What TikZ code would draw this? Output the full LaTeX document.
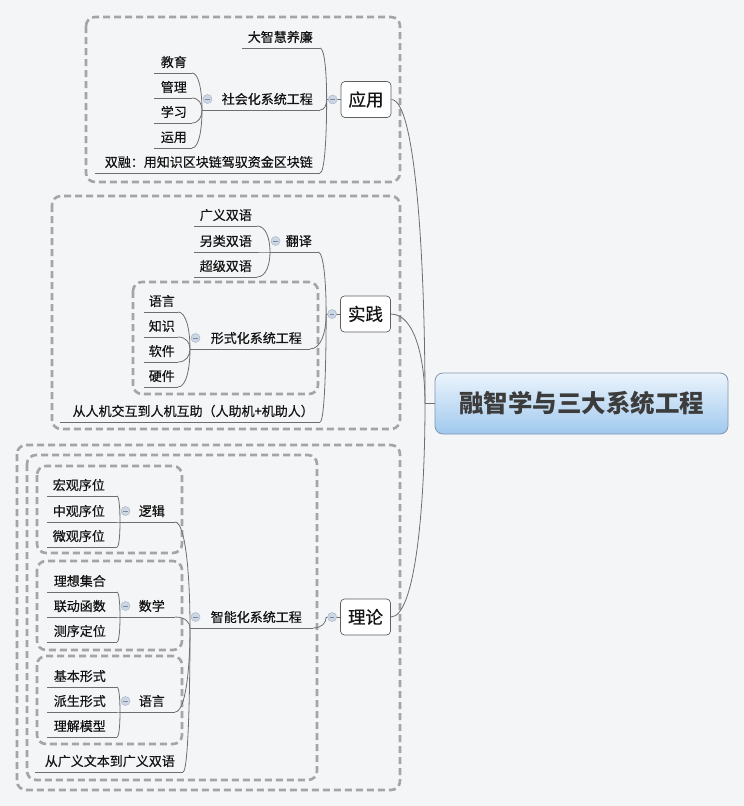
\documentclass[tikz,border=0pt]{standalone}
\usepackage{fontspec}
\setmainfont{Noto Sans CJK SC}
\newfontfamily\cjkm{Noto Sans CJK SC}[FakeBold=0.5]
\usetikzlibrary{calc}
\definecolor{bg}{RGB}{244,245,247}
\definecolor{ln}{RGB}{110,110,110}
\definecolor{dsh}{RGB}{165,165,165}
\definecolor{txt}{RGB}{20,20,20}
\definecolor{togf}{RGB}{205,214,228}
\definecolor{togd}{RGB}{170,182,200}
\definecolor{togm}{RGB}{125,138,160}
\definecolor{bx}{RGB}{95,95,95}
\definecolor{cbd}{RGB}{128,150,175}
\definecolor{ctop}{RGB}{236,244,252}
\definecolor{cbot}{RGB}{160,201,238}
\definecolor{ctx}{RGB}{60,60,60}
\tikzset{
 lnk/.style={draw=ln, line width=0.8pt},
 grp/.style={draw=dsh, line width=2.6pt, dash pattern=on 7pt off 4pt, rounded corners=9pt},
 lbl/.style={font=\cjkm\fontsize{13pt}{15pt}\selectfont, text=txt, inner sep=0pt, text height=9.9pt, text depth=0pt},
 mbox/.style={draw=bx, fill=white, line width=0.7pt, rounded corners=4pt, minimum width=50pt, minimum height=36pt, inner sep=0pt, font=\cjkm\fontsize{17.5pt}{20pt}\selectfont, text=txt, text height=13.3pt, text depth=0pt},
 cnode/.style={draw=cbd, line width=0.8pt, rounded corners=8pt, top color=ctop, bottom color=cbot, minimum width=293pt, minimum height=61pt, inner sep=0pt, font=\fontsize{24.5pt}{28pt}\selectfont\bfseries, text=ctx, text height=18.6pt, text depth=0pt},
 tog/.style={circle, minimum size=9pt, inner sep=0pt, fill=togf, draw=togd, line width=0.5pt,
   path picture={\draw[togm, line width=0.9pt] ([xshift=-2.2pt]path picture bounding box.center) -- ([xshift=2.2pt]path picture bounding box.center);}},
 bez/.style={to path={let \p1=(\tikztostart), \p2=(\tikztotarget) in .. controls ($(\x1,\y1)!0.7!(\x2,\y1)$) and ($(\x2,\y2)!0.5!(\x2,\y1)$) .. (\tikztotarget)}}
}
\newcommand\lf[6]{\coordinate (#1-l) at (#2,#4); \coordinate (#1-r) at (#3,#4);
  \node[lbl,anchor=east] (#1) at (#5,#4-11) {#6}; \draw[lnk] (#1-l) -- (#1-r);}
\newcommand\pn[6]{\lf{#1}{#2}{#3}{#4}{#5}{#6}\node[tog] (#1-t) at ($(#1-l)+(5.5,-11)$) {};}
\newcommand\mb[4]{\node[mbox] (#1) at (#2,#3) {#4};
  \coordinate (#1-j) at ($(#1.west)+(-14,0)$); \draw[lnk] (#1-j) -- (#1.west);
  \node[tog] (#1-t) at ($(#1.west)+(-8,0)$) {};}
\begin{document}
\begin{tikzpicture}[x=1pt,y=-1pt]
\fill[bg] (0,0) rectangle (744,806);
\useasboundingbox (0,0) rectangle (744,806);
% groups
\draw[grp] (86,17) rectangle (400,182);
\draw[grp] (52,196) rectangle (400,429);
\draw[grp] (133,282) rectangle (318,394);
\draw[grp] (17,445) rectangle (400,790);
\draw[grp] (27,455) rectangle (317,780);
\draw[grp] (37,466) rectangle (182,553);
\draw[grp] (37,561) rectangle (182,650);
\draw[grp] (37,656) rectangle (182,744);
% central
\node[cnode] (c) at (581.5,403.5) {融智学与三大系统工程};
\coordinate (c-j) at (425,403.5);
\draw[lnk] (c-j) -- (c.west);
% top
\mb{yy}{366}{99.5}{应用}
\lf{dz}{242}{320}{48}{313}{大智慧养廉}
\pn{sh}{202}{320}{110}{313}{社会化系统工程}
\lf{jy}{154}{192}{73}{187}{教育}
\lf{gl}{154}{192}{98}{187}{管理}
\lf{xx}{154}{192}{123}{187}{学习}
\lf{yyo}{154}{192}{148}{187}{运用}
\lf{sr}{95}{320}{173}{313}{双融：用知识区块链驾驭资金区块链}
\foreach \n in {dz,sh,sr} \draw[lnk] (\n-r) to[bez] (yy-j);
\foreach \n in {jy,gl,xx,yyo} \draw[lnk] (\n-r) to[bez] (sh-l);
% middle
\mb{sj}{365.5}{314}{实践}
\pn{fy}{270}{318}{252}{312}{翻译}
\lf{gy}{194}{257}{226}{252}{广义双语}
\lf{lx}{194}{257}{252}{252}{另类双语}
\lf{cj}{194}{257}{277}{252}{超级双语}
\pn{xs}{190}{310}{349}{302}{形式化系统工程}
\lf{yu}{144}{178}{312}{175}{语言}
\lf{zs}{144}{178}{337}{175}{知识}
\lf{rj}{144}{178}{362}{175}{软件}
\lf{yj}{144}{178}{387}{175}{硬件}
\lf{cr}{60}{320}{422}{314}{从人机交互到人机互助（人助机+机助人）}
\foreach \n in {fy,xs,cr} \draw[lnk] (\n-r) to[bez] (sj-j);
\foreach \n in {gy,lx,cj} \draw[lnk] (\n-r) to[bez] (fy-l);
\foreach \n in {yu,zs,rj,yj} \draw[lnk] (\n-r) to[bez] (xs-l);
% bottom
\mb{ll}{365.5}{617}{理论}
\pn{zn}{190}{313}{628}{302}{智能化系统工程}
\pn{lj}{120}{175}{522}{165}{逻辑}
\lf{hg}{47}{117}{496}{105}{宏观序位}
\lf{zg}{47}{117}{522}{105}{中观序位}
\lf{wg}{47}{117}{547}{105}{微观序位}
\pn{sx}{120}{175}{617}{165}{数学}
\lf{lxj}{47}{117}{592}{106}{理想集合}
\lf{ld}{47}{117}{617}{106}{联动函数}
\lf{cx}{47}{117}{642}{106}{测序定位}
\pn{yyy}{120}{175}{712}{165}{语言}
\lf{jb}{47}{117}{687}{106}{基本形式}
\lf{ps}{47}{117}{712}{106}{派生形式}
\lf{lm}{47}{117}{737}{106}{理解模型}
\lf{cg}{35}{183}{772}{175}{从广义文本到广义双语}
\draw[lnk] (zn-r) to[bez] (ll-j);
\foreach \n in {lj,sx,yyy,cg} \draw[lnk] (\n-r) to[bez] (zn-l);
\foreach \n in {hg,zg,wg} \draw[lnk] (\n-r) to[bez] (lj-l);
\foreach \n in {lxj,ld,cx} \draw[lnk] (\n-r) to[bez] (sx-l);
\foreach \n in {jb,ps,lm} \draw[lnk] (\n-r) to[bez] (yyy-l);
% main connectors
\foreach \n in {yy,sj,ll} \draw[lnk] (\n.east) to[bez] (c-j);
\end{tikzpicture}
\end{document}
